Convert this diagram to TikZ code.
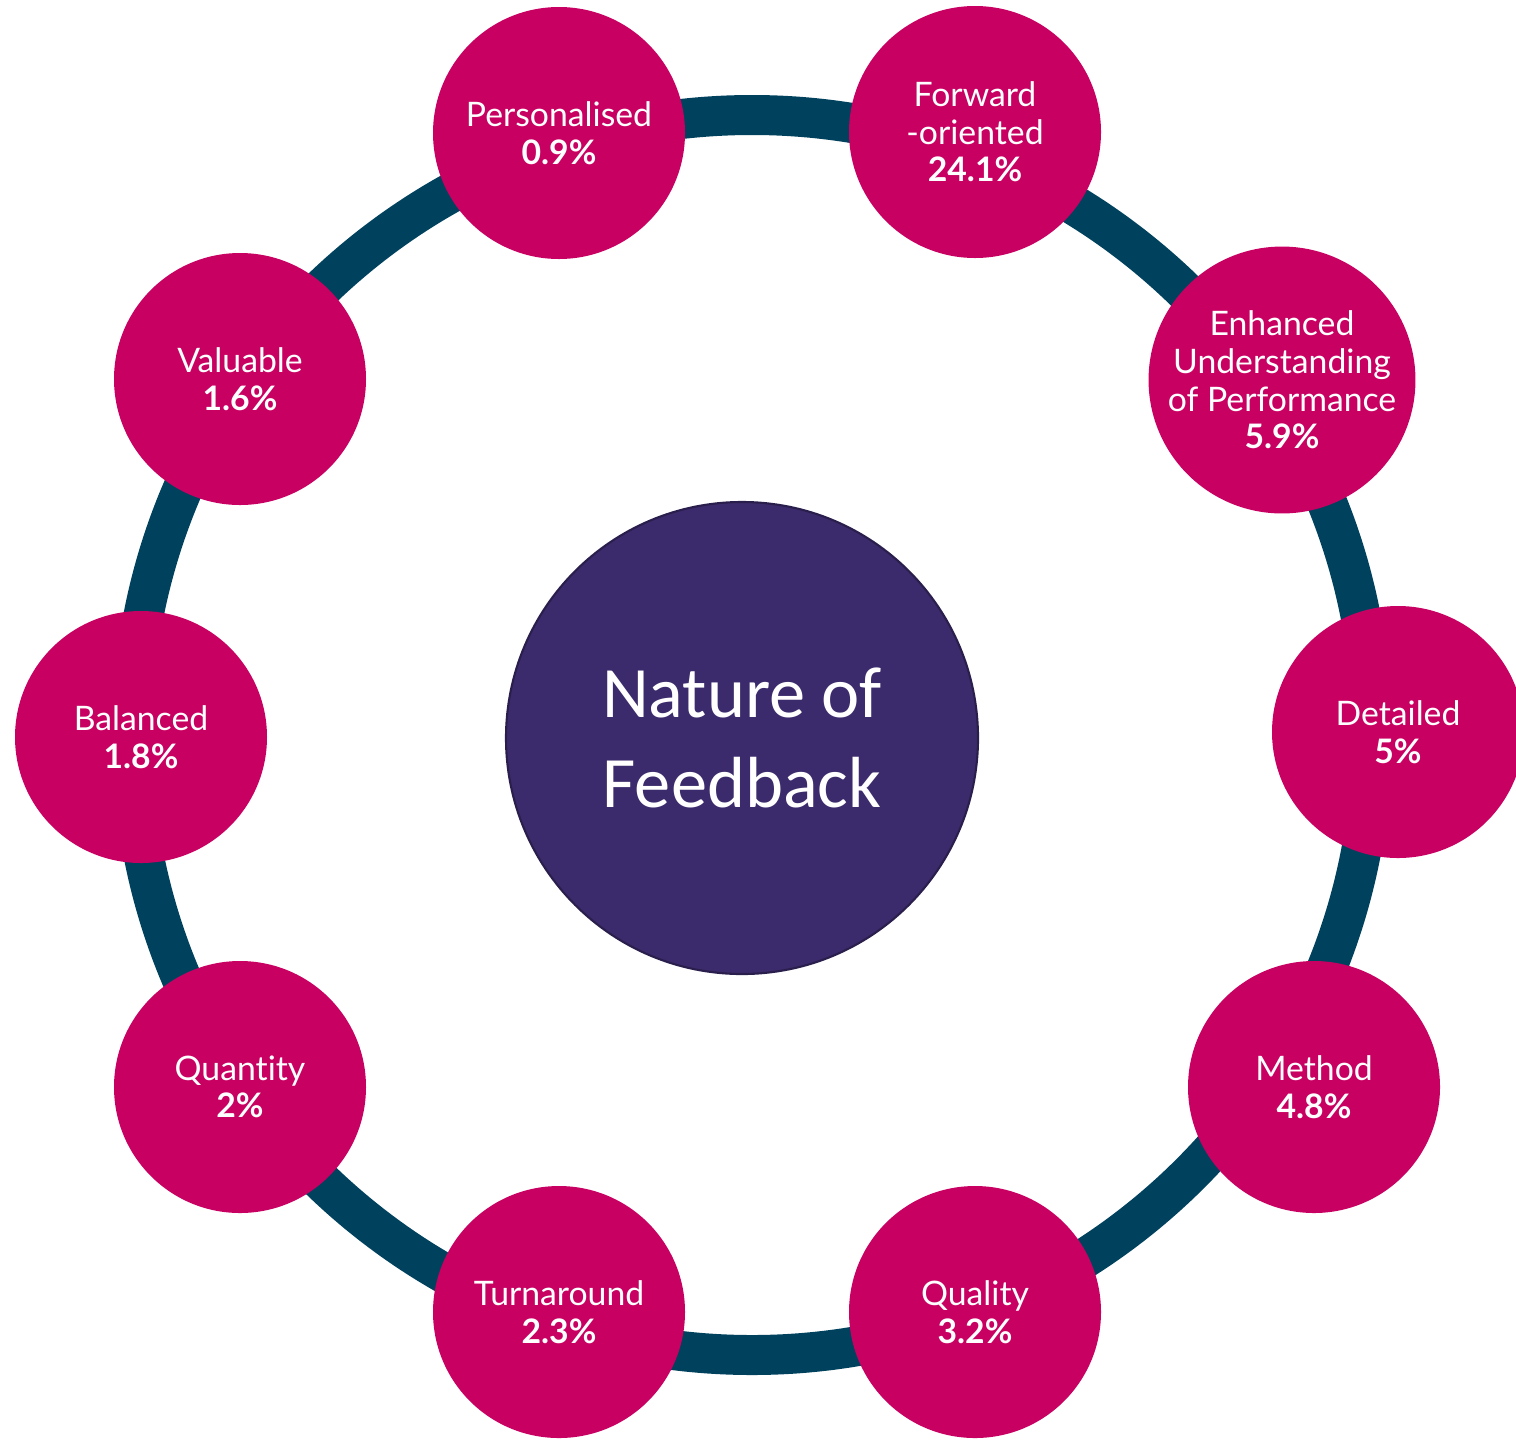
\documentclass[tikz,border=0pt]{standalone}
\usepackage{fontspec}
\usepackage{tikz}
\usetikzlibrary{shapes,backgrounds,positioning}
\newfontfamily\lblfont[Ligatures=NoCommon]{Lato}
\newfontfamily\hubfont{Carlito}
\definecolor{petalpink}{RGB}{200,0,98}
\definecolor{ringblue}{RGB}{0,66,94}
\definecolor{hubviolet}{RGB}{60,43,108}
\tikzstyle{petal}=[circle, fill=petalpink, text=white, minimum size=2.52cm, inner sep=0pt, align=center, font=\lblfont\fontsize{9.6}{10.7}\selectfont]
\tikzstyle{hub}=[circle, fill=hubviolet, draw=hubviolet!70!black, line width=0.6pt, text=white, minimum size=4.72cm, inner sep=0pt, align=center, font=\hubfont\fontsize{20.6}{25.6}\selectfont]
\tikzstyle{ring}=[draw=ringblue, line width=0.4cm]

\begin{document}
\begin{tikzpicture}
\useasboundingbox (0,0) rectangle (15.16,-14.40);
%Centre
\node[hub] (hub) at (7.42,-7.38){Nature of\\Feedback};
\coordinate (rc) at (7.52,-7.35);
%Outer circles
\node[petal] (pers) at (5.59,-1.33){Personalised\\{\bfseries 0.9\%}};
\node[petal] (fwd) at (9.75,-1.32){Forward\\-oriented\\{\bfseries 24.1\%}};
\node[petal] (enh) at (12.82,-3.80){Enhanced\\Understanding\\of Performance\\{\bfseries 5.9\%}};
\node[petal] (det) at (13.98,-7.32){Detailed\\{\bfseries 5\%}};
\node[petal] (meth) at (13.14,-10.87){Method\\{\bfseries 4.8\%}};
\node[petal] (qual) at (9.75,-13.12){Quality\\{\bfseries 3.2\%}};
\node[petal] (turn) at (5.59,-13.12){Turnaround\\{\bfseries 2.3\%}};
\node[petal] (quan) at (2.40,-10.87){Quantity\\{\bfseries 2\%}};
\node[petal] (bal) at (1.41,-7.37){Balanced\\{\bfseries 1.8\%}};
\node[petal] (val) at (2.40,-3.79){Valuable\\{\bfseries 1.6\%}};
%Ring
\begin{scope}[on background layer]
\draw[ring] (rc) circle (6.2);
\end{scope}

\end{tikzpicture}
\end{document}
